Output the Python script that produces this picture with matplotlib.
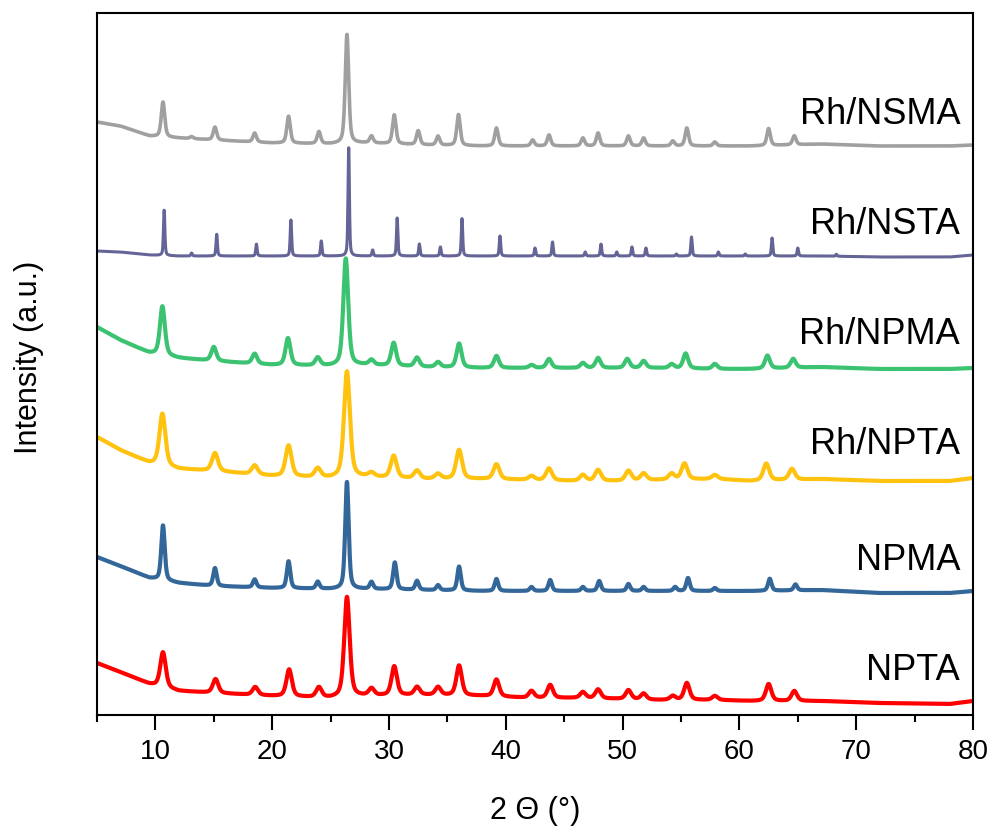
import numpy as np
import matplotlib
matplotlib.use("Agg")
import matplotlib.pyplot as plt
from matplotlib.ticker import MultipleLocator

plt.rcParams['font.family'] = ['Liberation Sans', 'DejaVu Sans']

# baseline knots (2theta) shared by all patterns
base_x = [5, 7, 9.5, 12, 15, 20, 25, 28, 33, 38, 42, 46, 50, 53, 58, 61, 67, 72, 78, 80]

# NPTA (red, bottom)
npta_base = [52, 43, 31, 24, 22, 19, 17, 19, 20, 19, 17, 17, 16, 15, 15, 14, 14, 12, 11, 14]
npta_pos = [10.65, 15.15, 18.55, 21.45, 24.0, 26.4, 28.5, 30.45, 32.4, 34.2, 36.0, 39.2,
            42.2, 43.8, 46.6, 47.9, 50.5, 51.8, 54.3, 55.5, 57.9, 62.5, 64.7]
npta_h = [35, 14, 8, 27, 10, 100, 7, 29, 8, 8, 30, 17, 7, 13, 6, 9, 9, 6, 4, 17, 4, 17, 10]

# NPMA (blue)
npma_base = [158, 149, 137, 132, 129, 127, 126, 126, 125, 124, 124, 124, 124, 124, 124, 124, 125, 122, 122, 124]
npma_pos = [10.65, 15.1, 18.5, 21.4, 23.9, 26.4, 28.5, 30.5, 32.4, 34.2, 36.0, 39.2,
            42.2, 43.8, 46.6, 48.0, 50.5, 51.8, 54.5, 55.6, 57.9, 62.6, 64.8]
npma_h = [55, 18, 8, 27, 7, 107, 7, 27, 9, 5, 24, 12, 4, 11, 4, 10, 7, 4, 4, 13, 3, 12, 6]

# Rh/NPTA (yellow)
rh_npta_base = [278, 265, 252, 246, 244, 239, 237, 238, 236, 236, 235, 234, 234, 235, 236, 234, 236, 234, 234, 237]
rh_npta_pos = [10.6, 15.1, 18.5, 21.4, 23.9, 26.4, 28.5, 30.4, 32.4, 34.2, 36.0, 39.2,
               42.2, 43.7, 46.6, 47.9, 50.5, 51.8, 54.2, 55.3, 57.9, 62.3, 64.5]
rh_npta_h = [52, 18, 9, 31, 9, 106, 4, 22, 8, 5, 29, 15, 4, 12, 6, 11, 10, 7, 6, 16, 4, 17, 11]

# Rh/NPMA (green)
rh_npma_base = [388, 375, 362, 357, 354, 350, 349, 350, 348, 347, 347, 347, 347, 347, 346, 346, 348, 346, 346, 347]
rh_npma_pos = [10.6, 15.0, 18.5, 21.35, 23.9, 26.3, 28.5, 30.4, 32.4, 34.2, 36.0, 39.2,
               42.2, 43.7, 46.6, 47.9, 50.4, 51.8, 54.2, 55.4, 57.9, 62.4, 64.6]
rh_npma_h = [49, 14, 10, 27, 8, 107, 5, 23, 9, 5, 24, 12, 3, 9, 5, 10, 9, 7, 4, 15, 5, 13, 9]

# Rh/NSTA (purple)
rh_nsta_base = [464, 463, 460, 459, 459, 459, 459, 459, 459, 459, 459, 459, 459, 459, 459, 459, 459, 458, 458, 460]
rh_nsta_pos = [10.75, 13.1, 15.25, 18.65, 21.6, 24.2, 26.55, 28.6, 30.7, 32.6, 34.4, 36.25, 39.5,
               42.5, 44.0, 46.8, 48.15, 49.5, 50.8, 52.0, 54.6, 55.9, 58.2, 60.5, 62.8, 65.0, 68.3]
rh_nsta_h = [46, 3, 22, 12, 36, 15, 110, 6, 38, 12, 9, 38, 20, 8, 14, 4, 12, 4, 9, 8, 2, 19, 4, 2, 18, 8, 2]

# Rh/NSMA (gray, top)
rh_nsma_base = [593, 589, 579, 577, 575, 572, 571, 572, 570, 569, 569, 569, 569, 569, 569, 569, 571, 569, 569, 570]
rh_nsma_pos = [10.65, 13.1, 15.1, 18.5, 21.4, 24.0, 26.4, 28.5, 30.45, 32.5, 34.2, 35.95, 39.2,
               42.3, 43.7, 46.6, 47.9, 50.5, 51.8, 54.3, 55.5, 57.9, 62.5, 64.7]
rh_nsma_h = [35, 2, 13, 9, 27, 12, 109, 7, 29, 14, 9, 31, 18, 6, 11, 8, 13, 10, 8, 5, 18, 4, 17, 9]

labels = ['NPTA', 'NPMA', 'Rh/NPTA', 'Rh/NPMA', 'Rh/NSTA', 'Rh/NSMA']
label_y = [45, 155, 270, 381, 490, 600]
colors = ['#FF0000', '#336699', '#FFC20E', '#3CC371', '#646496', '#A0A0A0']
fwhm = [0.55, 0.35, 0.6, 0.5, 0.14, 0.35]
widths = [3.0, 3.0, 3.0, 3.0, 2.2, 2.6]


def pattern(tt, bases, pos, heights, w, eta=0.5):
    y = np.interp(tt, base_x, bases)
    for p, h in zip(pos, heights):
        d = (tt - p) / (w / 2)
        y = y + h * (eta / (1 + d**2) + (1 - eta) * np.exp(-np.log(2) * d**2))
    return y


tt = np.arange(5, 80.001, 0.02)
series = [
    (npta_base, npta_pos, npta_h),
    (npma_base, npma_pos, npma_h),
    (rh_npta_base, rh_npta_pos, rh_npta_h),
    (rh_npma_base, rh_npma_pos, rh_npma_h),
    (rh_nsta_base, rh_nsta_pos, rh_nsta_h),
    (rh_nsma_base, rh_nsma_pos, rh_nsma_h),
]

fig = plt.figure(figsize=(9.95, 8.34), dpi=100)
ax = fig.add_axes([97 / 995, 119 / 834, 876 / 995, 702 / 834])

for (b, p, h), c, w, lw, name, ly in zip(series, colors, fwhm, widths, labels, label_y):
    ax.plot(tt, pattern(tt, b, p, h, w), color=c, lw=lw)
    ax.text(78.9, ly, name, fontsize=26, ha='right', va='center')

ax.set_xlim(5, 80)
ax.set_ylim(0, 702)
ax.xaxis.set_major_locator(MultipleLocator(10))
ax.xaxis.set_minor_locator(MultipleLocator(5))
ax.set_yticks([])
ax.tick_params(axis='x', which='major', direction='out', length=11, width=1.5, labelsize=20, pad=6)
ax.tick_params(axis='x', which='minor', direction='out', length=5, width=1.5)
for s in ax.spines.values():
    s.set_linewidth(1.5)

ax.set_xlabel('2 \u0398 (\u00b0)', fontsize=22)
ax.set_ylabel('Intensity (a.u.)', fontsize=22)
ax.xaxis.set_label_coords(0.5, -0.115)
ax.yaxis.set_label_coords(-0.06, 0.51)

fig.savefig('out.png', dpi=100)
